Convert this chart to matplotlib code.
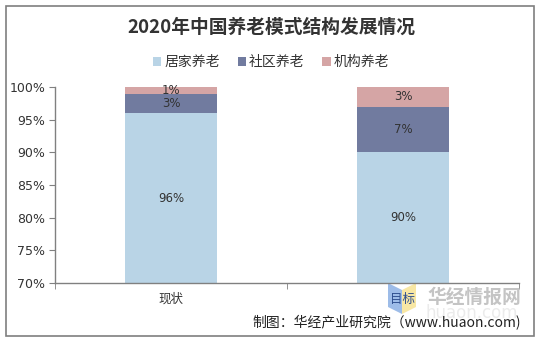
import matplotlib
matplotlib.use("Agg")
import matplotlib.pyplot as plt
from matplotlib.patches import Rectangle, Patch, Polygon

plt.rcParams['font.family'] = ['Noto Sans CJK SC', 'DejaVu Sans']

categories = ['现状', '目标']
series_names = ['居家养老', '社区养老', '机构养老']
home = [96, 90]
community = [3, 7]
institution = [1, 3]
series_values = [home, community, institution]
colors = ['#B9D4E6', '#717B9F', '#D5A5A5']
yticks = [70, 75, 80, 85, 90, 95, 100]

W, H = 544, 343
fig = plt.figure(figsize=(W / 100, H / 100), dpi=100)
fig.patch.set_facecolor('white')

# outer frame
fig.patches.append(Rectangle((6 / W, 1 - 336 / H), (534 - 6) / W, (336 - 6) / H,
                             transform=fig.transFigure, fill=False,
                             edgecolor='#7F7F7F', linewidth=1.2))

ax = fig.add_axes([55 / W, 1 - 283 / H, (519 - 55) / W, (283 - 87) / H])
ax.patch.set_alpha(0)
ymin, ymax = 70, 100
ax.set_ylim(ymin, ymax)
x = list(range(len(categories)))
bottom = [0] * len(categories)
for name, vals, c in zip(series_names, series_values, colors):
    ax.bar(x, vals, width=0.4, bottom=bottom, color=c, label=name, zorder=2)
    for xi, b, v in zip(x, bottom, vals):
        # label sits in the middle of the visible part of the segment
        lo, hi = max(b, ymin), min(b + v, ymax)
        ax.text(xi, (lo + hi) / 2, f'{v}%', ha='center', va='center', fontsize=8.5,
                color='#333333', family=['DejaVu Sans'], zorder=3)
    bottom = [b + v for b, v in zip(bottom, vals)]

ax.set_xlim(-0.5, len(categories) - 0.5)
ax.set_yticks(yticks)
ax.set_yticklabels([f'{t}%' for t in yticks], fontsize=9, color='#333333',
                   family=['DejaVu Sans'])
ax.set_xticks(x)
ax.set_xticklabels(categories, fontsize=9, color='#333333')
ax.get_xticklabels()[1].set_color('#2F4F8F')
ax.tick_params(axis='x', length=0, pad=7)
ax.tick_params(axis='y', length=4, color='#808080', pad=3)
# category boundary ticks
ax.set_xticks([-0.5, 0.5, 1.5], minor=True)
ax.tick_params(axis='x', which='minor', length=4, color='#808080')
for s in ['top', 'right']:
    ax.spines[s].set_visible(False)
for s in ['left', 'bottom']:
    ax.spines[s].set_color('#808080')
    ax.spines[s].set_linewidth(1)

fig.text(271 / W, 1 - 27 / H, '2020年中国养老模式结构发展情况', ha='center', va='center',
         fontsize=13.5, fontweight='bold', color='#333333')

handles = [Patch(facecolor=c, edgecolor='none') for c in colors]
fig.legend(handles, series_names, loc='center', bbox_to_anchor=(271 / W, 1 - 62 / H),
           ncol=3, frameon=False, fontsize=10, handlelength=0.6, handleheight=0.6,
           handletextpad=0.2, columnspacing=1.3, labelcolor='#333333')

# watermark: logo behind the axes, brand text and domain
logo_left = Polygon([(388 / W, 1 - 283 / H), (402 / W, 1 - 290 / H),
                     (402 / W, 1 - 314 / H), (388 / W, 1 - 307 / H)],
                    closed=True, transform=fig.transFigure,
                    facecolor='#9DBCE8', edgecolor='none', zorder=-1)
logo_right = Polygon([(402 / W, 1 - 290 / H), (416 / W, 1 - 283 / H),
                      (416 / W, 1 - 307 / H), (402 / W, 1 - 314 / H)],
                     closed=True, transform=fig.transFigure,
                     facecolor='#F8E7A4', edgecolor='none', zorder=-1)
fig.patches.extend([logo_left, logo_right])
fig.text(472 / W, 1 - 313 / H, 'huaon.com', ha='center', va='center', fontsize=12,
         color='#EBEBEB', family=['DejaVu Sans'], zorder=0)
fig.text(474 / W, 1 - 297 / H, '华经情报网', ha='center', va='center', fontsize=13.5,
         fontweight='bold', color='#C4C4C4', zorder=1)

fig.text(521 / W, 1 - 323 / H, '制图：华经产业研究院（www.huaon.com)', ha='right',
         va='center', fontsize=10, color='#222222')

fig.savefig('out.png', dpi=100)
